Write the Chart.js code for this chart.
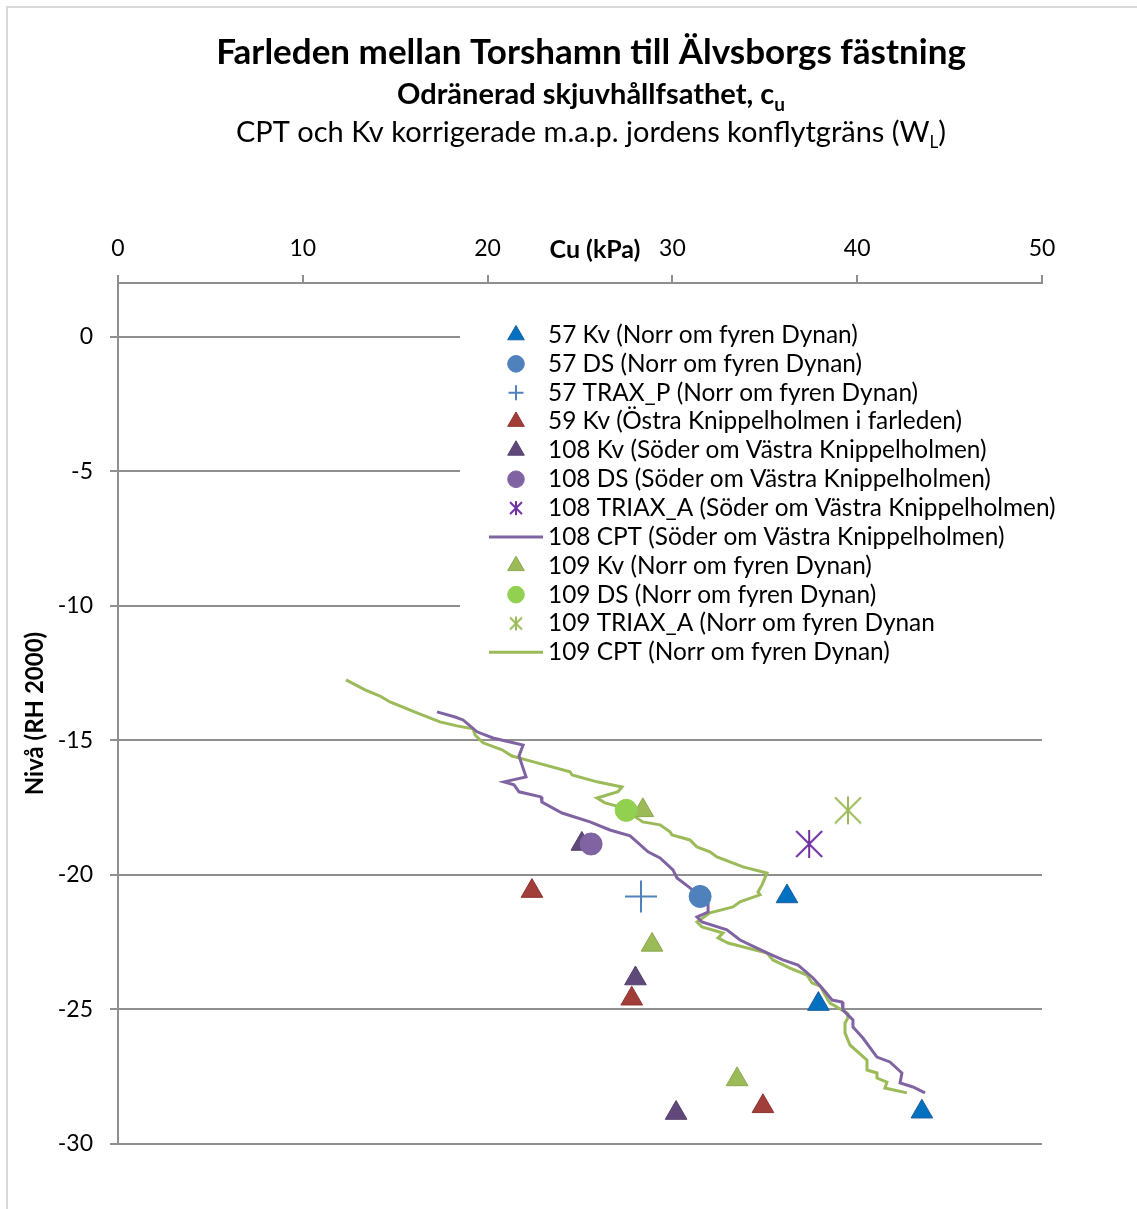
<!DOCTYPE html>
<html>
<head>
<meta charset="utf-8">
<title>Farleden mellan Torshamn till Älvsborgs fästning</title>
<style>
    body{ margin:0; background:white; }
    canvas{ display:block; }
</style>
</head>
<body>
<canvas id="cu" width="1137" height="1209"></canvas>

<script src="https://cdn.jsdelivr.net/npm/chart.js@4.4.1/dist/chart.umd.min.js"></script>
<script>
    const xTicks = [0, 10, 20, 30, 40, 50];
    const yTicks = [0, -5, -10, -15, -20, -25, -30];

    const seriesNames = [
        '57 Kv (Norr om fyren Dynan)',
        '57 DS (Norr om fyren Dynan)',
        '57 TRAX_P (Norr om fyren Dynan)',
        '59 Kv (Östra Knippelholmen i farleden)',
        '108 Kv (Söder om Västra Knippelholmen)',
        '108 DS (Söder om Västra Knippelholmen)',
        '108 TRIAX_A (Söder om Västra Knippelholmen)',
        '108 CPT (Söder om Västra Knippelholmen)',
        '109 Kv (Norr om fyren Dynan)',
        '109 DS (Norr om fyren Dynan)',
        '109 TRIAX_A (Norr om fyren Dynan',
        '109 CPT (Norr om fyren Dynan)'
    ];

    const kv57X = [36.2, 37.9, 43.5];
    const kv57Y = [-20.8, -24.8, -28.8];
    const ds57X = [31.5];
    const ds57Y = [-20.8];
    const trax57X = [28.3];
    const trax57Y = [-20.8];
    const kv59X = [22.4, 27.8, 34.9];
    const kv59Y = [-20.6, -24.6, -28.6];
    const kv108X = [25.1, 28.0, 30.2];
    const kv108Y = [-18.85, -23.85, -28.85];
    const ds108X = [25.6];
    const ds108Y = [-18.85];
    const triax108X = [37.4];
    const triax108Y = [-18.85];
    const cpt108X = [17.26, 18.24, 18.67, 19.43, 20.29, 21.21, 21.92, 21.7, 21.86, 22.08, 20.89, 21.43,
        21.7, 22.89, 22.94, 24.03, 25.54, 26.62, 27.71, 28.14, 28.68, 29.33, 30.03, 30.25, 30.95, 31.93,
        31.93, 31.33, 31.6, 32.95, 33.66, 35.12, 35.98, 36.8, 37.61, 38.1, 38.64, 39.18, 39.23, 39.77,
        39.77, 40.31, 41.07, 41.77, 42.42, 42.32, 43.02, 43.67];
    const cpt108Y = [-13.94, -14.13, -14.24, -14.68, -14.91, -15.06, -15.17, -15.58, -15.91, -16.36, -16.54, -16.65,
        -16.91, -17.1, -17.29, -17.7, -18.03, -18.33, -18.55, -18.81, -19.14, -19.37, -19.81, -20.11, -20.48, -21.04,
        -21.38, -21.56, -21.75, -22.04, -22.42, -22.9, -23.16, -23.35, -23.83, -24.2, -24.65, -24.72, -25.02, -25.39,
        -25.65, -26.06, -26.77, -26.95, -27.36, -27.73, -27.88, -28.1];
    const kv109X = [28.4, 28.9, 33.5];
    const kv109Y = [-17.6, -22.6, -27.6];
    const ds109X = [27.5];
    const ds109Y = [-17.6];
    const triax109X = [39.5];
    const triax109Y = [-17.6];
    const cpt109X = [12.34, 13.37, 14.18, 14.72, 16.18, 17.42, 18.34, 19.21, 19.32, 19.75, 20.78, 21.32,
        22.29, 24.46, 24.57, 25.92, 27.27, 27.06, 25.92, 26.35, 27.16, 28.4, 29.33, 29.87, 29.98, 30.95,
        31.33, 32.03, 32.41, 33.82, 35.12, 34.85, 34.63, 34.74, 33.66, 33.28, 32.03, 31.33, 31.6, 32.74,
        32.47, 33.01, 35.12, 35.44, 36.36, 37.28, 37.55, 37.99, 38.42, 38.53, 39.45, 39.5, 39.34, 39.34,
        39.61, 40.53, 40.53, 41.07, 41.07, 41.61, 41.5, 42.69];
    const cpt109Y = [-12.75, -13.12, -13.35, -13.57, -13.98, -14.31, -14.46, -14.57, -14.8, -15.09, -15.35, -15.58,
        -15.76, -16.17, -16.28, -16.54, -16.73, -16.91, -17.14, -17.32, -17.47, -18.03, -18.14, -18.4, -18.51, -18.7,
        -18.96, -19.14, -19.33, -19.7, -19.93, -20.37, -20.63, -20.74, -21.0, -21.19, -21.41, -21.75, -21.93, -22.16,
        -22.34, -22.53, -22.9, -23.16, -23.46, -23.72, -24.01, -24.13, -24.65, -24.76, -25.13, -25.32, -25.5, -25.87,
        -26.32, -26.88, -27.25, -27.36, -27.55, -27.7, -27.92, -28.1];

    function pts(xs, ys) {
        return xs.map((x, i) => ({x: x, y: ys[i]}));
    }

    // excel style star marker: vertical stroke plus an X
    function asterisk(size, color) {
        const c = document.createElement('canvas');
        c.width = size;
        c.height = size;
        const g = c.getContext('2d');
        g.strokeStyle = color;
        g.lineWidth = 2;
        g.beginPath();
        g.moveTo(size / 2, 1); g.lineTo(size / 2, size - 1);
        g.moveTo(2, 2); g.lineTo(size - 2, size - 2);
        g.moveTo(size - 2, 2); g.lineTo(2, size - 2);
        g.stroke();
        return c;
    }

    function marker(label, data, style, fill, edge, radius, legendRadius) {
        return {
            label: label,
            data: data,
            pointStyle: style,
            pointRadius: radius,
            pointBackgroundColor: fill,
            pointBorderColor: edge,
            pointBorderWidth: style === 'cross' ? 2 : 1,
            showLine: false,
            legendRadius: legendRadius
        };
    }

    function line(label, data, color) {
        return {
            label: label,
            data: data,
            borderColor: color,
            borderWidth: 3,
            pointRadius: 0,
            showLine: true,
            tension: 0,
            isLine: true
        };
    }

    const datasets = [
        marker(seriesNames[0], pts(kv57X, kv57Y), 'triangle', '#0070c0', '#1f5f9e', 12.5, 9.6),
        marker(seriesNames[1], pts(ds57X, ds57Y), 'circle', '#4f81bd', '#4f81bd', 11, 8.3),
        marker(seriesNames[2], pts(trax57X, trax57Y), 'cross', '#4f81bd', '#4f81bd', 16, 7.5),
        marker(seriesNames[3], pts(kv59X, kv59Y), 'triangle', '#a13e3a', '#8f3431', 12.5, 9.6),
        marker(seriesNames[4], pts(kv108X, kv108Y), 'triangle', '#60497a', '#54406c', 12.5, 9.6),
        marker(seriesNames[5], pts(ds108X, ds108Y), 'circle', '#8064a2', '#8064a2', 11, 8.3),
        marker(seriesNames[6], pts(triax108X, triax108Y), asterisk(30, '#7030a0'), '#7030a0', '#7030a0', 15, 0),
        line(seriesNames[7], pts(cpt108X, cpt108Y), '#8064a2'),
        marker(seriesNames[8], pts(kv109X, kv109Y), 'triangle', '#9bbb59', '#8aa84d', 12.5, 9.6),
        marker(seriesNames[9], pts(ds109X, ds109Y), 'circle', '#92d050', '#92d050', 11, 8.3),
        marker(seriesNames[10], pts(triax109X, triax109Y), asterisk(30, '#9bbb59'), '#9bbb59', '#9bbb59', 15, 0),
        line(seriesNames[11], pts(cpt109X, cpt109Y), '#9bbb59')
    ];
    // lines underneath, later marker series on top of earlier ones
    datasets.forEach((d, i) => { d.order = d.isLine ? 100 : 50 - i; });

    const legendIcons = {
        6: asterisk(16, '#7030a0'),
        10: asterisk(16, '#9bbb59')
    };

    function drawParts(ctx, parts, cx, y) {
        let total = 0;
        parts.forEach(p => { ctx.font = p.font; p.w = ctx.measureText(p.t).width; total += p.w; });
        let x = cx - total / 2;
        ctx.textAlign = 'left';
        ctx.textBaseline = 'alphabetic';
        parts.forEach(p => { ctx.font = p.font; ctx.fillText(p.t, x, y + (p.dy || 0)); x += p.w; });
    }

    const decor = {
        id: 'decor',
        beforeDraw(chart) {
            const ctx = chart.ctx;
            ctx.save();
            ctx.fillStyle = 'white';
            ctx.fillRect(0, 0, chart.width, chart.height);
            ctx.strokeStyle = '#d9d9d9';
            ctx.lineWidth = 2;
            ctx.beginPath();
            ctx.moveTo(7, chart.height); ctx.lineTo(7, 7); ctx.lineTo(chart.width, 7);
            ctx.stroke();
            ctx.restore();
        },
        afterDraw(chart) {
            const ctx = chart.ctx;
            ctx.save();
            ctx.fillStyle = '#000';

            drawParts(ctx, [{t: 'Farleden mellan Torshamn till Älvsborgs fästning', font: 'bold 35px Lato'}], 591, 64);
            drawParts(ctx, [
                {t: 'Odränerad skjuvhållfsathet, c', font: 'bold 29px Lato'},
                {t: 'u', font: 'bold 19px Lato', dy: 7}
            ], 591, 104);
            drawParts(ctx, [
                {t: 'CPT och Kv korrigerade m.a.p. jordens konflytgräns (W', font: '29px Lato'},
                {t: 'L', font: '17px Lato', dy: 6},
                {t: ')', font: '29px Lato'}
            ], 591, 142);

            ctx.font = 'bold 25px Lato';
            ctx.textAlign = 'center';
            ctx.textBaseline = 'middle';
            ctx.fillText('Cu (kPa)', 595, 250);

            // legend box inside the plot area
            ctx.fillStyle = 'white';
            ctx.fillRect(460, 318, 600, 350);
            const helpers = Chart.helpers;
            chart.data.datasets.forEach((d, i) => {
                const y = 335 + i * 28.85;
                if (d.isLine) {
                    ctx.strokeStyle = d.borderColor;
                    ctx.lineWidth = 3;
                    ctx.beginPath();
                    ctx.moveTo(489, y); ctx.lineTo(543, y);
                    ctx.stroke();
                } else {
                    ctx.fillStyle = d.pointBackgroundColor;
                    ctx.strokeStyle = d.pointBorderColor;
                    ctx.lineWidth = d.pointBorderWidth;
                    const style = legendIcons[i] || d.pointStyle;
                    helpers.drawPoint(ctx, {pointStyle: style, radius: d.legendRadius, rotation: 0, borderWidth: d.pointBorderWidth}, 516, y);
                }
                ctx.fillStyle = '#000';
                ctx.font = '24.4px Lato';
                ctx.textAlign = 'left';
                ctx.textBaseline = 'middle';
                ctx.fillText(d.label, 548, y);
            });
            ctx.restore();
        }
    };

    new Chart('cu', {
        type: 'scatter',
        data: {datasets: datasets},
        options: {
            responsive: false,
            animation: false,
            layout: {padding: {left: 0, top: 0, right: 95, bottom: 65}},
            plugins: {
                legend: {display: false},
                tooltip: {enabled: false}
            },
            scales: {
                x: {
                    type: 'linear',
                    position: 'top',
                    min: 0,
                    max: 50,
                    afterBuildTicks: s => { s.ticks = xTicks.map(v => ({value: v})); },
                    afterFit: s => { s.height = 283; },
                    grid: {drawOnChartArea: false, drawTicks: true, tickLength: 8, color: '#8f8f8f', lineWidth: 2},
                    border: {color: '#8f8f8f', width: 2},
                    ticks: {padding: 13, font: {family: 'Lato', size: 23}, color: '#000', maxRotation: 0}
                },
                y: {
                    type: 'linear',
                    min: -30,
                    max: 2,
                    afterBuildTicks: s => { s.ticks = yTicks.map(v => ({value: v})); },
                    afterFit: s => { s.width = 118; },
                    grid: {tickLength: 8, color: '#8f8f8f', lineWidth: 2},
                    border: {color: '#8f8f8f', width: 2},
                    ticks: {padding: 17, font: {family: 'Lato', size: 23}, color: '#000'},
                    title: {
                        display: true,
                        text: 'Nivå (RH 2000)',
                        color: '#000',
                        font: {family: 'Lato', size: 24, weight: 'bold'},
                        padding: {top: 21, bottom: 0}
                    }
                }
            }
        },
        plugins: [decor]
    });
</script>
</body>
</html>
